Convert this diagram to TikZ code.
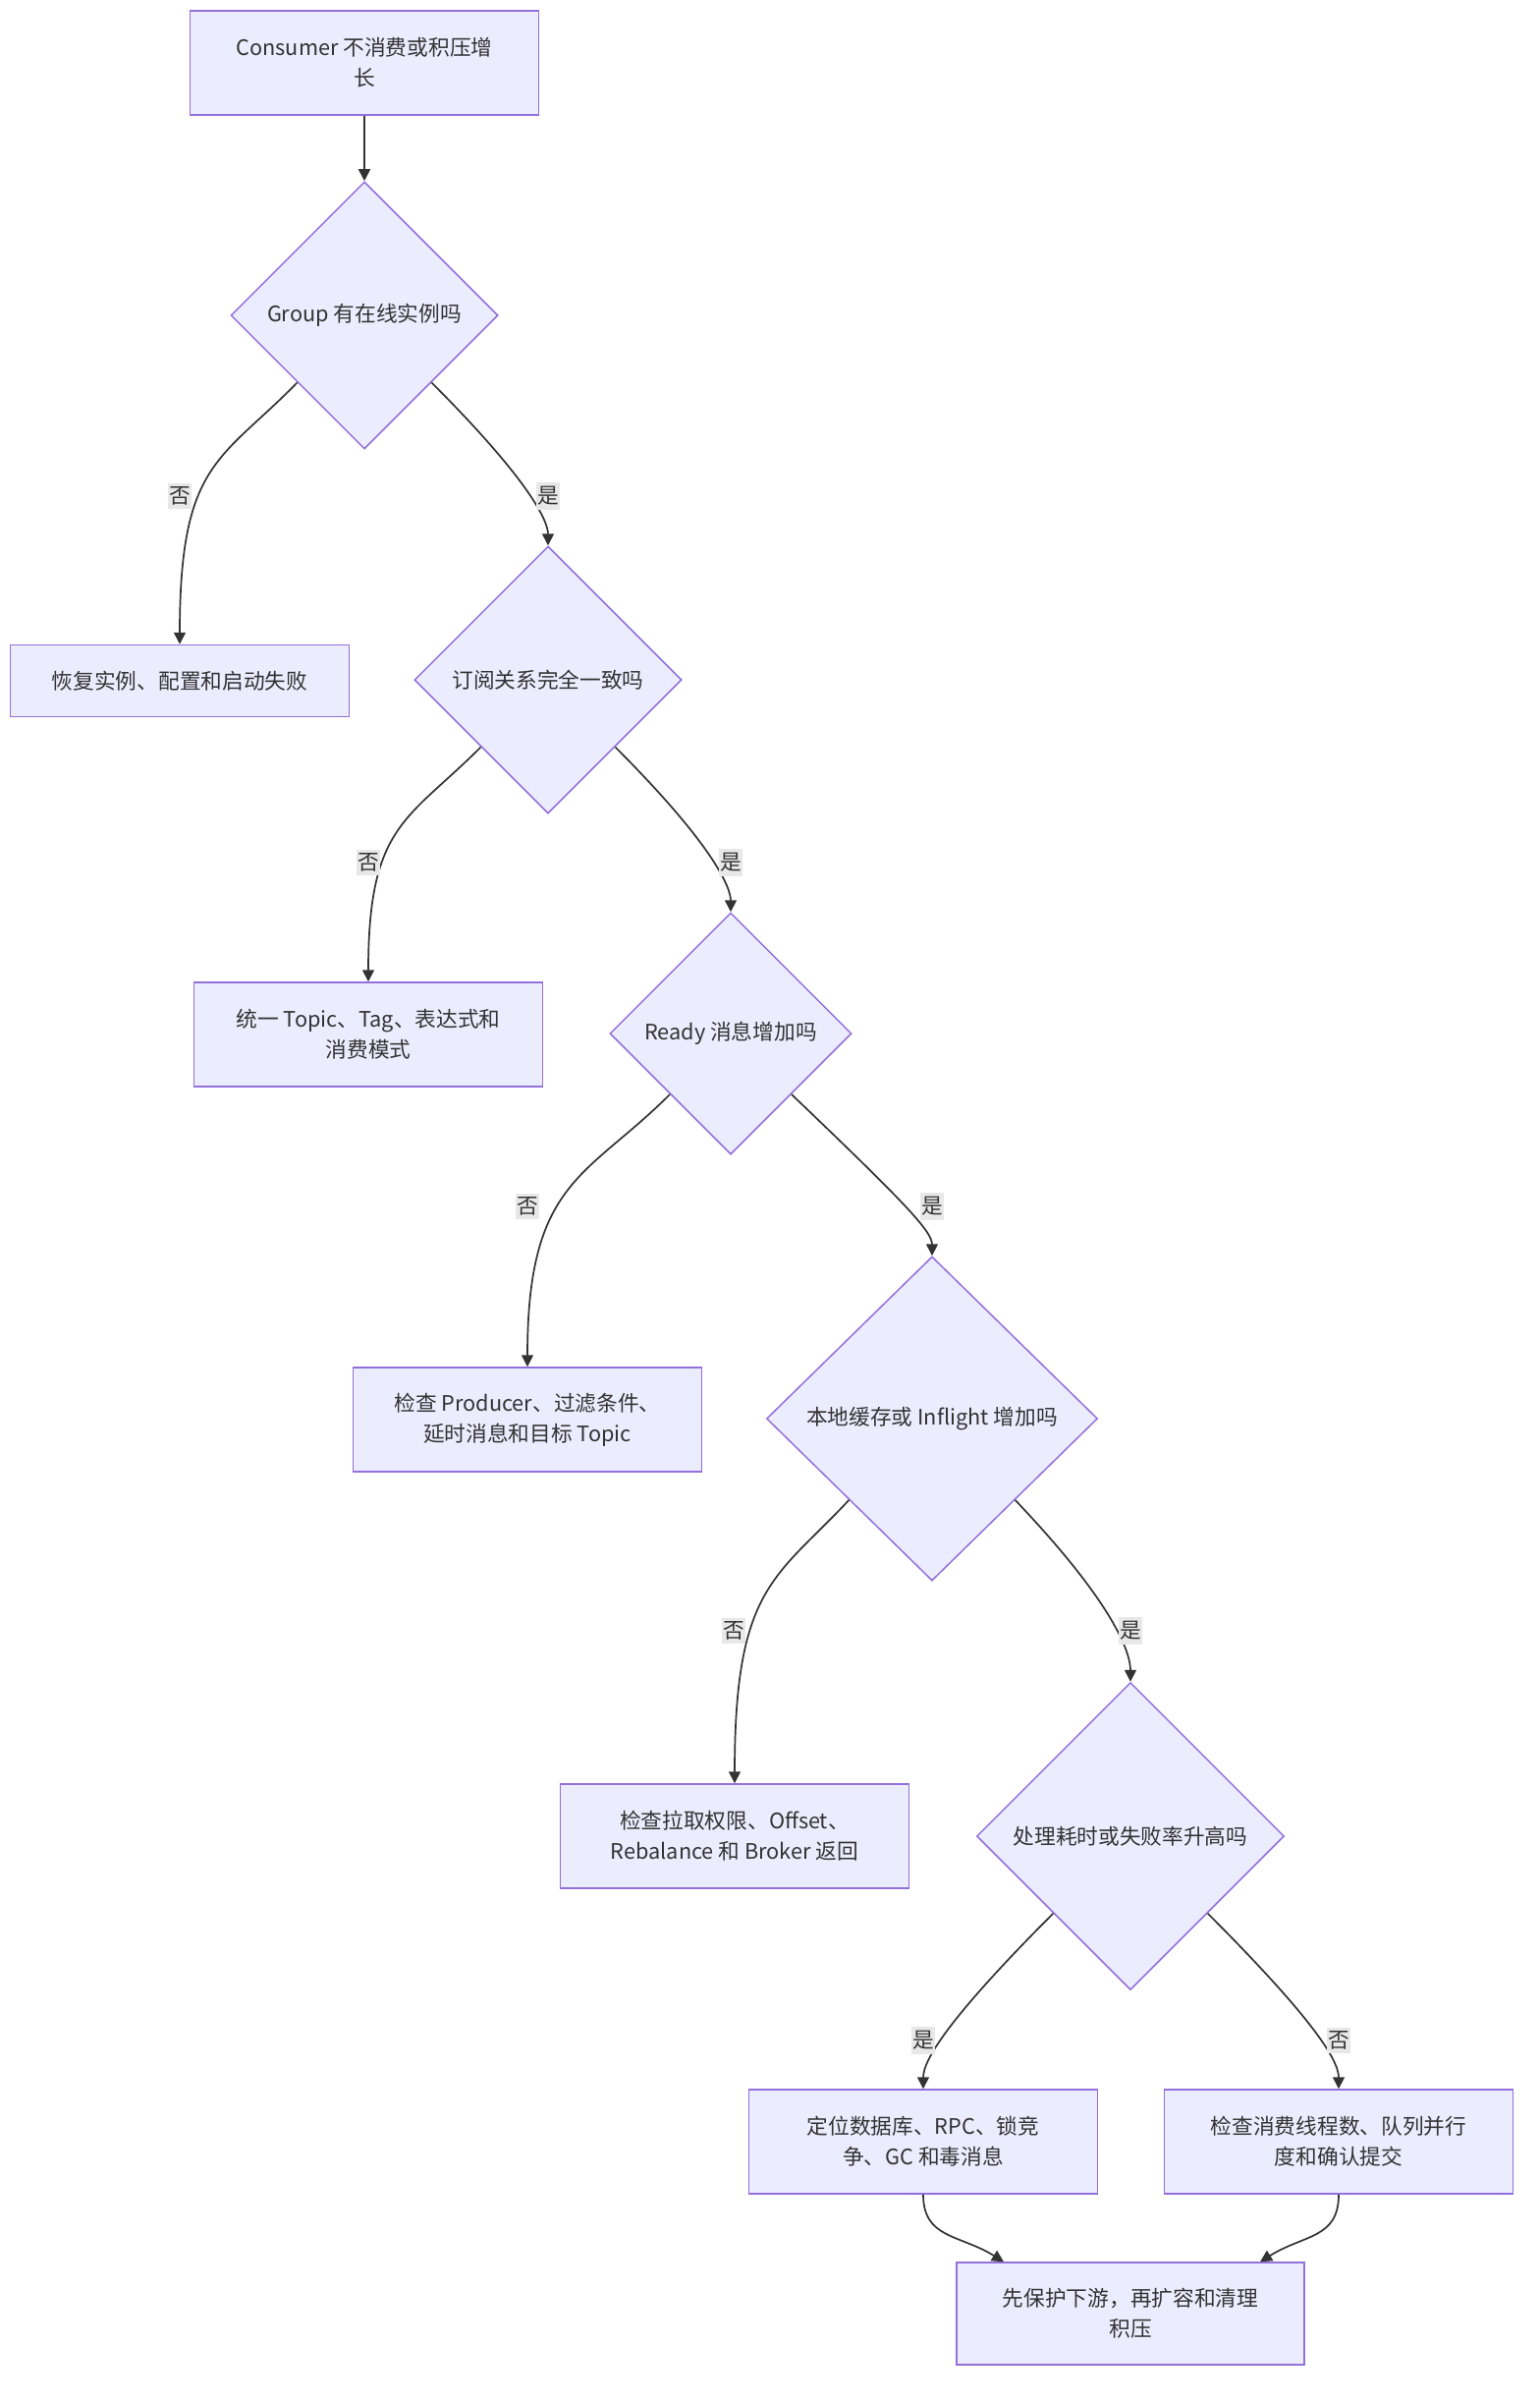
\documentclass[tikz,border=0pt]{standalone}
\usepackage{fontspec}
\setmainfont{Noto Sans CJK SC}
\usepackage{tikz}
\usetikzlibrary{arrows.meta,shapes.geometric}
\definecolor{boxfill}{HTML}{ECECFF}
\definecolor{boxline}{HTML}{9370DB}
\definecolor{ink}{HTML}{333333}
\definecolor{lblfill}{HTML}{E8E8E8}
\tikzstyle{block}=[draw=boxline,fill=boxfill,line width=1.5pt,text=ink,align=center,minimum width=355pt,minimum height=106pt,inner sep=0pt]
\tikzstyle{decision}=[draw=boxline,fill=boxfill,line width=1.5pt,text=ink,align=center,diamond,aspect=1,inner sep=0pt]
\tikzstyle{flow}=[draw=ink,line width=1.7pt,-{Triangle[length=12pt,width=12pt]}]
\tikzstyle{answer}=[fill=lblfill,text=ink,inner xsep=1pt,inner ysep=4pt]

\begin{document}
\begin{tikzpicture}[x=1pt,y=-1pt,font=\fontsize{21.7pt}{31pt}\selectfont]
\useasboundingbox (0,0) rectangle (1568,2446);
\node [block] (start) at (371,64) {Consumer 不消费或积压增\\长};
\node [decision,minimum size=272pt] (online) at (371,321) {Group 有在线实例吗};
\node [block,minimum width=345pt,minimum height=73pt] (restore) at (183,693) {恢复实例、配置和启动失败};
\node [decision,minimum size=272pt] (subs) at (558,692) {订阅关系完全一致吗};
\node [block] (unify) at (375,1053) {统一 Topic、Tag、表达式和\\消费模式};
\node [decision,minimum size=246pt] (ready) at (744,1052) {Ready 消息增加吗};
\node [block] (producer) at (537,1445) {检查 Producer、过滤条件、\\延时消息和目标 Topic};
\node [decision,minimum width=337pt,minimum height=330pt] (cache) at (949,1444) {本地缓存或 Inflight 增加吗};
\node [block] (pull) at (748,1869) {检查拉取权限、Offset、\\Rebalance 和 Broker 返回};
\node [decision,minimum size=313pt] (slow) at (1151,1869) {处理耗时或失败率升高吗};
\node [block] (locate) at (940,2180) {定位数据库、RPC、锁竞\\争、GC 和毒消息};
\node [block] (threads) at (1363,2180) {检查消费线程数、队列并行\\度和确认提交};
\node [block,minimum width=354pt,minimum height=104pt] (protect) at (1151,2355) {先保护下游，再扩容和清理\\积压};

\draw [flow] (start) -- (online);
\draw [flow] (online.south west) .. controls +(-78,80) and +(0,-186) .. (restore.north) node [answer] at (183,505) {否};
\draw [flow] (online.south east) .. controls +(100,100) and +(0,-25) .. (subs.north) node [answer] at (558,505) {是};
\draw [flow] (subs.south west) .. controls +(-75,75) and +(0,-160) .. (unify.north) node [answer] at (375,878) {否};
\draw [flow] (subs.south east) .. controls +(100,100) and +(0,-25) .. (ready.north) node [answer] at (744,878) {是};
\draw [flow] (ready.south west) .. controls +(-85,85) and +(0,-190) .. (producer.north) node [answer] at (537,1228) {否};
\draw [flow] (ready.south east) .. controls +(115,110) and +(0,-25) .. (cache.north) node [answer] at (949,1228) {是};
\draw [flow] (cache.south west) .. controls +(-75,80) and +(0,-200) .. (pull.north) node [answer] at (747,1660) {否};
\draw [flow] (cache.south east) .. controls +(100,105) and +(0,-30) .. (slow.north) node [answer] at (1151,1660) {是};
\draw [flow] (slow.south west) .. controls +(-105,105) and +(0,-30) .. (locate.north) node [answer] at (940,2077) {是};
\draw [flow] (slow.south east) .. controls +(105,105) and +(0,-30) .. (threads.north) node [answer] at (1363,2077) {否};
\draw [flow] (locate.south) .. controls +(0,45) and +(-45,-28) .. ([xshift=-129pt]protect.north);
\draw [flow] (threads.south) .. controls +(0,45) and +(45,-28) .. ([xshift=132pt]protect.north);
\end{tikzpicture}
\end{document}
